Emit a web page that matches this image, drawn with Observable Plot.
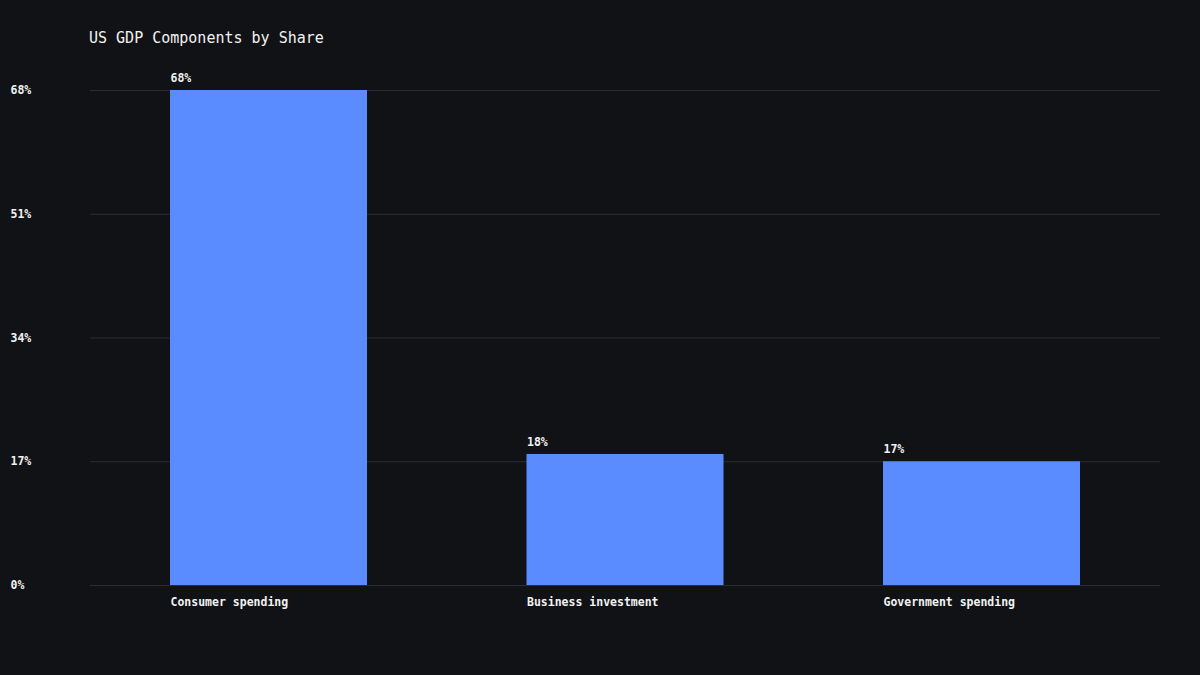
<!DOCTYPE html>
<html>
<head>
<meta charset="utf-8">
<script src="https://cdn.jsdelivr.net/npm/d3@7"></script>
<script src="https://cdn.jsdelivr.net/npm/@observablehq/plot@0.6"></script>
<style>
  html, body { margin: 0; padding: 0; background: #111216; }
  body { width: 1200px; height: 675px; overflow: hidden; font-family: "DejaVu Sans Mono", "Liberation Mono", monospace; }
  #title { height: 60px; box-sizing: border-box; padding: 29px 0 0 89px; color: #f2f2f2; font-size: 15px; line-height: 18px; }
  #chart svg { display: block; }
</style>
</head>
<body>
<div id="title">US GDP Components by Share</div>
<div id="chart"></div>
<script>
const categories = ["Consumer spending", "Business investment", "Government spending"];
const shares = [68, 18, 17];
const yTicks = [0, 17, 34, 51, 68];

const data = categories.map((c, i) => ({category: c, share: shares[i]}));

const bandwidth = 197;
const chart = Plot.plot({
  width: 1200,
  height: 615,
  marginTop: 30,
  marginBottom: 90,
  marginLeft: 90,
  marginRight: 40,
  style: {background: "#111216", color: "#f2f2f2", fontFamily: "'DejaVu Sans Mono', 'Liberation Mono', monospace", fontSize: "11.5px"},
  x: {domain: categories, paddingInner: 0.4474, paddingOuter: 0.2244, round: false, label: null},
  y: {domain: [0, 68], ticks: yTicks, label: null},
  marks: [
    Plot.gridY(yTicks, {stroke: "#2c2d34", strokeOpacity: 1}),
    Plot.barY(data, {x: "category", y: "share", fill: "#5a8bff"}),
    Plot.text(data, {x: "category", y: "share", text: d => d.share + "%", textAnchor: "start", dx: -bandwidth / 2, dy: -12, fill: "#f2f2f2", fontWeight: "bold", fontSize: 11.5}),
    Plot.axisY(yTicks, {tickSize: 0, tickPadding: 3, textAnchor: "start", dx: -77, tickFormat: d => d + "%", fill: "#f2f2f2", fontWeight: "bold", label: null}),
    Plot.axisX({tickSize: 0, tickPadding: 12, textAnchor: "start", dx: -bandwidth / 2, fill: "#f2f2f2", fontWeight: "bold", label: null})
  ]
});
document.getElementById("chart").appendChild(chart);
</script>
</body>
</html>
